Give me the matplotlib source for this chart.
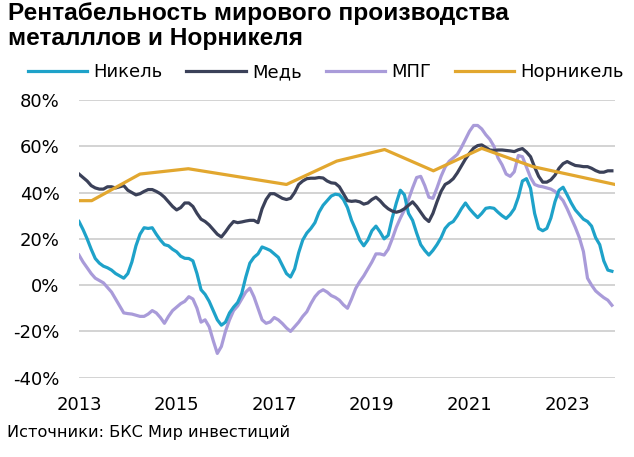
import matplotlib
matplotlib.use("Agg")
import matplotlib.pyplot as plt
import numpy as np

# ---- data (monthly, Jan 2013 .. Dec 2023) ----
start_year = 2013
nickel = [27.5, 24, 20, 15.5, 11.5, 9.5, 8.2, 7.5, 6.5, 5, 4, 3,
          5, 10, 17, 22, 24.8, 24.5, 24.8, 22, 19.5, 17.5, 17, 15.5,
          14.4, 12.5, 11.6, 11.5, 10.5, 5, -2, -4, -7, -11, -15, -17.3,
          -16, -12, -9.5, -7.5, -3.6, 3.5, 9.5, 12, 13.5, 16.5, 15.8, 15,
          13.5, 12, 8.5, 5, 3.5, 7, 14, 19.5, 22.5, 24.5, 27, 31.5,
          34.5, 36.5, 38.5, 39.3, 39, 37, 33.5, 28, 24, 19.5, 17, 19.5,
          23.5, 25.5, 23, 20, 21.5, 29, 35.5, 41, 39, 31, 28, 22.5,
          17.5, 15, 13, 15, 17.5, 20.5, 24.5, 26.5, 27.5, 30, 33, 35.5,
          33, 31, 29.2, 31, 33.2, 33.5, 33.2, 31.5, 30, 28.8, 30.5, 33,
          38, 45, 46, 41.8, 31, 24.5, 23.5, 24.5, 29, 36, 41, 42.3,
          39, 35.5, 32.5, 30.5, 28.5, 27.5, 25.5, 20.5, 17.5, 10.5, 6.5, 6]
copper = [48, 46.5, 45, 43, 42, 41.5, 41.5, 42.5, 42.5, 42, 42.5, 43,
          41, 40, 39, 39.5, 40.5, 41.3, 41.3, 40.5, 39.5, 38, 36, 34,
          32.5, 33.5, 35.5, 35.5, 34, 31, 28.5, 27.5, 26, 24, 22, 20.8,
          23, 25.5, 27.5, 27, 27.3, 27.7, 28, 28, 27, 33, 37, 39.5,
          39.5, 38.5, 37.5, 37, 37.5, 40, 43.5, 45, 46, 46.2, 46.2, 46.5,
          46.3, 45, 44.2, 44, 42.5, 39.5, 36.5, 36.2, 36.4, 36, 35, 35.5,
          37, 38, 36.5, 34.5, 33, 32, 31.5, 32, 33, 34.5, 36, 34,
          31.5, 29, 27.5, 31, 36, 40.5, 43.5, 44.5, 46, 48.5, 51.5, 54.5,
          57, 59.2, 60.3, 60.6, 59.5, 58.4, 58.2, 58.4, 58.4, 58.2, 58, 57.7,
          58.5, 59, 57.5, 55.5, 51, 47, 44.5, 44.5, 45.5, 47.5, 50.5, 52.5,
          53.4, 52.5, 51.7, 51.5, 51.2, 51.2, 50.5, 49.5, 48.8, 48.8, 49.4, 49.4]
pgm = [13, 10, 7.5, 5, 3, 2, 1, -1, -3, -6, -9, -12,
       -12.3, -12.5, -13, -13.5, -13.5, -12.5, -11, -12, -14, -16.5, -13.5, -11,
       -9.5, -8, -7, -5, -6, -10, -16, -15, -18, -24, -29.5, -26.5,
       -20, -15, -11, -9, -6, -3, -1.3, -5, -10, -15, -16.5, -15.9,
       -14, -15, -16.6, -18.5, -20, -18, -16, -13.5, -11.5, -8, -5, -3,
       -2, -3, -4.5, -5.3, -6.5, -8.5, -10, -6, -1.5, 1.5, 4, 7,
       10, 13.5, 13.5, 13, 15.5, 20, 25, 29, 32.5, 37, 42, 46.5,
       47, 43, 38, 37.5, 42, 47, 51, 53.5, 55, 56.5, 59.5, 63,
       66.5, 69, 69, 67.5, 65, 63, 60, 55, 52, 48, 47, 49,
       56, 55.5, 51, 46.5, 43.5, 42.8, 42.5, 42, 41.5, 40.5, 38.5, 36.5,
       33, 29, 25, 20.5, 14.5, 3, 0, -2.5, -4, -5.4, -6.5, -8.7]
nornickel_dates = [2013.0, 2013.26, 2014.25, 2015.24, 2017.25, 2018.28,
                   2019.26, 2020.26, 2021.25, 2022.3, 2023.98]
nornickel = [36.5, 36.5, 48, 50.3, 43.5, 53.6, 58.6, 49.4, 59.1, 51.2, 43.5]

series_names = ["Никель", "Медь", "МПГ", "Норникель"]
colors = ["#1ea2c9", "#3b4159", "#a99bd9", "#e2a72f"]
year_ticks = [2013, 2015, 2017, 2019, 2021, 2023]
y_ticks = [-40, -20, 0, 20, 40, 60, 80]

months = start_year + np.arange(len(nickel)) / 12.0

fig = plt.figure(figsize=(6.34, 4.57), dpi=100)
ax = fig.add_axes([79/634, 1-377.7/457, (615-79)/634, (377.7-100)/457])

lw = 2.3
ax.plot(months, nickel, color=colors[0], lw=lw, label=series_names[0], zorder=3)
ax.plot(months, copper, color=colors[1], lw=lw, label=series_names[1], zorder=4)
ax.plot(months, pgm, color=colors[2], lw=lw, label=series_names[2], zorder=2)
ax.plot(nornickel_dates, nornickel, color=colors[3], lw=lw, label=series_names[3], zorder=5)

ax.set_xlim(2013, 2023.98)
ax.set_ylim(-40, 80)
ax.set_yticks(y_ticks)
ax.set_yticklabels([f"{v}%" for v in y_ticks])
ax.set_xticks(year_ticks)
ax.set_xticklabels([str(y) for y in year_ticks])
ax.grid(axis="y", color="#d0d0d0", lw=1.3, zorder=0)
ax.grid(axis="x", visible=False)
for s in ax.spines.values():
    s.set_visible(False)
ax.tick_params(axis="both", length=0, labelsize=13, colors="black")
ax.tick_params(axis="y", pad=14)
ax.tick_params(axis="x", pad=13)
for t in ax.get_yticklabels() + ax.get_xticklabels():
    t.set_fontfamily("DejaVu Sans")

fig.text(8/634, 1-2/457, "Рентабельность мирового производства\nметалллов и Норникеля",
         fontsize=17.6, fontweight="bold", family="Liberation Sans", va="top", ha="left",
         linespacing=1.12)

leg = fig.legend(loc="center", bbox_to_anchor=(326/634, 1-72/457), ncol=4, frameon=False,
                 handlelength=3.3, handletextpad=0.35, columnspacing=1.3,
                 prop={"family": "DejaVu Sans", "size": 13})

fig.text(7/634, 1-432/457, "Источники: БКС Мир инвестиций", fontsize=11.6,
         family="DejaVu Sans", va="center", ha="left")

fig.savefig("out.png", dpi=100)
